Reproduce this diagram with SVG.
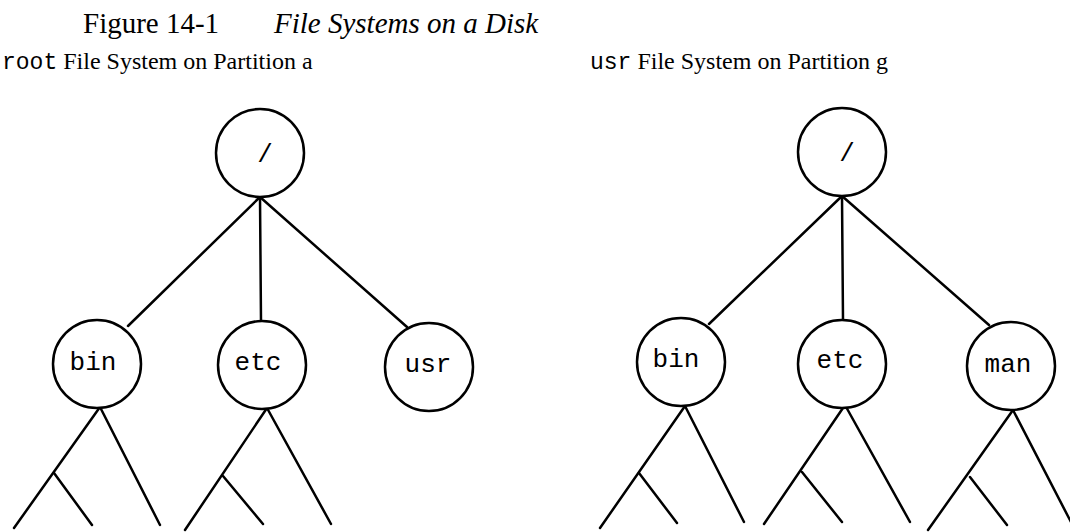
<svg xmlns="http://www.w3.org/2000/svg" width="1070" height="532" viewBox="0 0 1070 532">
  <style>
    .serif { font-family: "Liberation Serif", "Times New Roman", serif; fill: #000; }
    .mono { font-family: "Liberation Mono", "Courier New", monospace; fill: #000; }
    .title { font-size: 29px; }
    .sub { font-size: 24px; }
    .sub .mono { font-size: 23px; }
    .node circle { fill: #fff; stroke: #000; stroke-width: 2.5; }
    .node text { font-family: "Liberation Mono", "Courier New", monospace; font-size: 26px; text-anchor: middle; fill: #000; }
    .edges line { stroke: #000; stroke-width: 2.5; stroke-linecap: round; }
  </style>
  <rect width="1070" height="532" fill="#fff"/>

  <!-- Caption -->
  <text class="serif title" x="83" y="33">Figure 14-1</text>
  <text class="serif title" x="274" y="33" font-style="italic">File Systems on a Disk</text>

  <!-- Partition headings -->
  <text class="sub" x="2" y="69"><tspan class="mono">root</tspan><tspan class="serif"> File System on Partition a</tspan></text>
  <text class="sub" x="590" y="69"><tspan class="mono">usr</tspan><tspan class="serif"> File System on Partition g</tspan></text>

  <!-- Connectors -->
  <g id="connectors" class="edges">
    <!-- root partition -->
    <line x1="260" y1="197" x2="128" y2="326"/>
    <line x1="260" y1="197" x2="261" y2="321"/>
    <line x1="260" y1="197" x2="407" y2="327"/>
    <line x1="100" y1="407" x2="14" y2="528"/>
    <line x1="100" y1="407" x2="160" y2="525"/>
    <line x1="54" y1="473" x2="92" y2="525"/>
    <line x1="267" y1="408" x2="185" y2="530"/>
    <line x1="267" y1="408" x2="331" y2="524"/>
    <line x1="223" y1="476" x2="263" y2="524"/>
    <!-- usr partition -->
    <line x1="842" y1="196" x2="709" y2="324"/>
    <line x1="842" y1="196" x2="843" y2="320"/>
    <line x1="842" y1="196" x2="989" y2="325"/>
    <line x1="685" y1="406" x2="600" y2="528"/>
    <line x1="685" y1="406" x2="744" y2="522"/>
    <line x1="639" y1="473" x2="677" y2="523"/>
    <line x1="845" y1="405" x2="764" y2="524"/>
    <line x1="845" y1="405" x2="910" y2="522"/>
    <line x1="802" y1="472" x2="842" y2="522"/>
    <line x1="1013" y1="410" x2="928" y2="530"/>
    <line x1="1013" y1="410" x2="1072" y2="524"/>
    <line x1="970" y1="477" x2="1007" y2="525"/>
  </g>

  <!-- root partition nodes -->
  <g id="a-root" class="node"><circle cx="260" cy="153" r="44"/><text x="265" y="162">/</text></g>
  <g id="a-bin" class="node"><circle cx="97" cy="364" r="44"/><text x="93" y="370">bin</text></g>
  <g id="a-etc" class="node"><circle cx="262" cy="365" r="44"/><text x="258" y="370">etc</text></g>
  <g id="a-usr" class="node"><circle cx="429" cy="367" r="44"/><text x="428" y="372">usr</text></g>

  <!-- usr partition nodes -->
  <g id="g-root" class="node"><circle cx="842" cy="152" r="44"/><text x="847" y="161">/</text></g>
  <g id="g-bin" class="node"><circle cx="681" cy="362" r="44"/><text x="676" y="367">bin</text></g>
  <g id="g-etc" class="node"><circle cx="842" cy="364" r="44"/><text x="840" y="368">etc</text></g>
  <g id="g-man" class="node"><circle cx="1011" cy="366" r="44"/><text x="1008" y="372">man</text></g>
</svg>
